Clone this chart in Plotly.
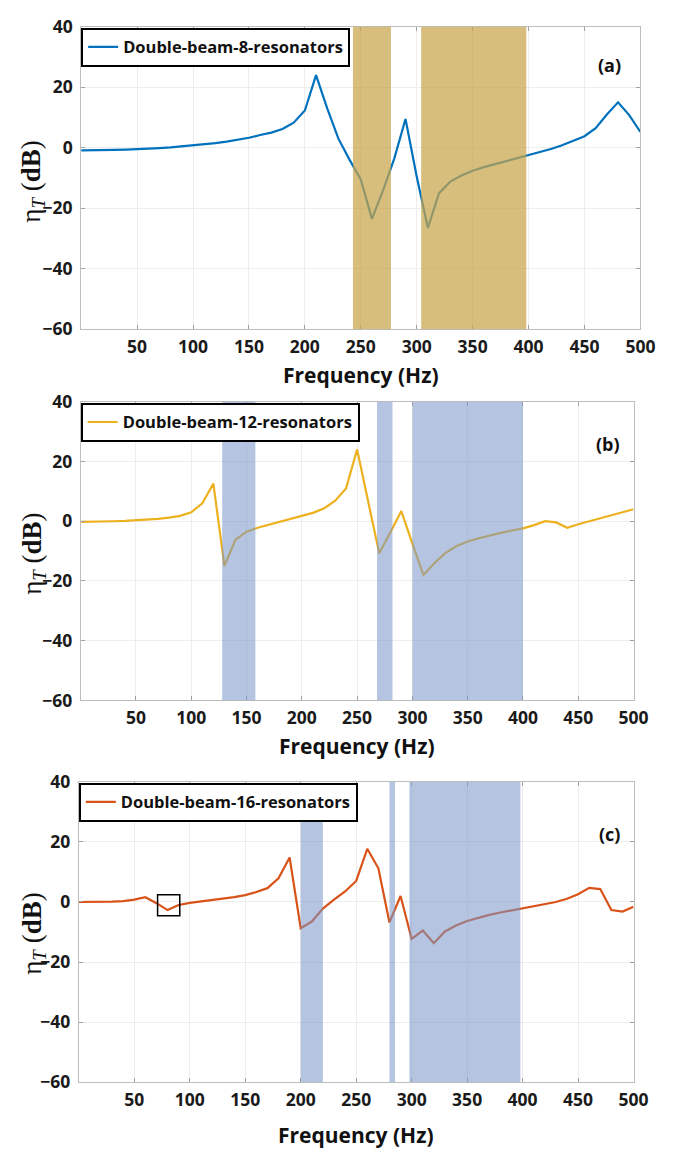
import plotly.graph_objects as go

# ---------------- data ----------------
FREQ = [0, 10, 20, 30, 40, 50, 60, 70, 80, 90, 100, 110, 120, 130, 140, 150, 160, 170, 180, 190,
        200, 210, 220, 230, 240, 250, 260, 270, 280, 290, 300, 310, 320, 330, 340, 350, 360, 370,
        380, 390, 400, 410, 420, 430, 440, 450, 460, 470, 480, 490, 500]

ETA_8 = [-0.9, -0.9, -0.8, -0.7, -0.6, -0.5, -0.3, -0.1, 0.1, 0.4, 0.7, 1.1, 1.5, 2.0, 2.6, 3.3,
         4.2, 5.0, 6.2, 8.3, 12.3, 24.0, 13.0, 3.0, -4.0, -10.5, -23.5, -14.0, -3.5, 9.5, -9.5,
         -26.5, -15.0, -11.2, -9.2, -7.6, -6.4, -5.4, -4.4, -3.4, -2.5, -1.5, -0.4, 0.8, 2.2, 3.8,
         6.5, 11.0, 15.0, 10.8, 5.2]

ETA_12 = [-0.2, -0.2, -0.1, 0.0, 0.1, 0.3, 0.5, 0.8, 1.2, 1.8, 3.0, 6.0, 12.6, -15.0, -6.2, -3.5,
          -2.2, -1.2, -0.3, 0.6, 1.6, 2.8, 4.3, 6.8, 11.0, 24.0, 6.6, -10.7, -3.8, 3.4, -7.5,
          -18.0, -14.0, -10.6, -8.3, -6.8, -5.7, -4.7, -3.9, -3.1, -2.4, -1.3, 0.0, -0.4, -2.2,
          -1.0, 0.0, 1.0, 2.0, 3.0, 4.0]

ETA_16 = [0.0, 0.0, 0.1, 0.1, 0.3, 0.8, 1.6, -0.4, -2.7, -1.0, -0.3, 0.2, 0.6, 1.0, 1.6, 2.3,
          3.3, 4.6, 7.9, 14.8, -8.7, -6.5, -2.2, 0.8, 3.5, 7.0, 17.7, 11.2, -6.8, 2.0, -12.3,
          -9.5, -13.7, -9.8, -7.8, -6.3, -5.2, -4.3, -3.5, -2.8, -2.2, -1.5, -0.8, 0.0, 1.1,
          2.6, 4.7, 4.3, -2.7, -3.2, -1.6]

# band gaps: (start Hz, end Hz, top dB)
BANDS_8 = [(243, 277, 40), (304, 398, 40)]
BANDS_12 = [(128, 158, 40), (268, 282, 40), (300, 400, 40)]
BANDS_16 = [(200, 220, 30), (280, 285, 40), (298, 398, 40)]

# highlighted box in panel (c): (x0, x1, y0, y1)
BOX_16 = (71, 91, -4.6, 2.4)

NAMES = ["Double-beam-8-resonators", "Double-beam-12-resonators", "Double-beam-16-resonators"]
PANEL_LABELS = ["(a)", "(b)", "(c)"]
X_TICKS = [50, 100, 150, 200, 250, 300, 350, 400, 450, 500]
Y_TICKS = [-60, -40, -20, 0, 20, 40]

# ---------------- layout geometry ----------------
W, H = 673, 1158
LINE_COLORS = ["#0072BD", "#EDB120", "#D95319"]
BAND_STYLE = [("rgb(200,165,75)", 0.72), ("rgb(120,150,200)", 0.55), ("rgb(120,150,200)", 0.55)]
# pixel boxes (left, right, top, bottom)
PIX = [(83, 655, 14, 323), (82.5, 648, 397, 702), (80.6, 648, 785, 1092)]
XTITLE_Y = [370, 749, 1146]
YTITLE_Y = [172, 552, 940]
LABEL_POS = [(623, 53), (622, 440), (623, 838)]

def px(x):
    return x / W

def py(y):
    return 1 - y / H

fig = go.Figure()
series = [ETA_8, ETA_12, ETA_16]
bands = [BANDS_8, BANDS_12, BANDS_16]
shapes = []
annotations = []
font_main = "Open Sans"

for i in range(3):
    sx = "" if i == 0 else str(i + 1)
    xa, ya = "x" + sx, "y" + sx
    lg = "legend" if i == 0 else "legend" + str(i + 1)
    fig.add_trace(go.Scatter(x=FREQ, y=series[i], mode="lines", name=NAMES[i],
                             line=dict(color=LINE_COLORS[i], width=2.2),
                             xaxis=xa, yaxis=ya, legend=lg, showlegend=True))
    l, r, t, b = PIX[i]
    axis_common = dict(showline=True, linecolor="#bdbdbd", linewidth=1, mirror="ticks",
                       ticks="inside", ticklen=4, tickcolor="#a0a0a0",
                       showgrid=True, gridcolor="#ededed", gridwidth=1, zeroline=False,
                       tickfont=dict(family=font_main, size=17.5, color="#1a1a1a", weight="bold"))
    fig.update_layout(**{
        "xaxis" + sx: dict(domain=[px(l), px(r)], range=[0, 500], tickvals=X_TICKS,
                           anchor=ya, ticklabelstandoff=2, **axis_common),
        "yaxis" + sx: dict(domain=[py(b), py(t)], range=[-60, 40], tickvals=Y_TICKS,
                           anchor=xa, ticklabelstandoff=4, **axis_common),
    })
    col, op = BAND_STYLE[i]
    for (b0, b1, top) in bands[i]:
        shapes.append(dict(type="rect", xref=xa, yref=ya, x0=b0, x1=b1, y0=-60, y1=top,
                           fillcolor=col, opacity=op, line=dict(width=0), layer="above"))
    # legend
    fig.update_layout(**{
        lg: dict(x=px(l), y=py(t + 1), xanchor="left", yanchor="top",
                 bgcolor="white", bordercolor="black", borderwidth=2,
                 font=dict(family=font_main, size=16.5, color="#111111", weight="bold"),
                 itemwidth=30, tracegroupgap=0)
    })
    # titles
    annotations.append(dict(text="Frequency (Hz)", xref="paper", yref="paper",
                            x=px((l + r) / 2), y=py(XTITLE_Y[i]), xanchor="center", yanchor="middle",
                            showarrow=False,
                            font=dict(family=font_main, size=21, color="#111111", weight="bold")))
    annotations.append(dict(text="η<sub><i>T</i></sub> (<b>dB</b>)", xref="paper", yref="paper",
                            x=px(34), y=py(YTITLE_Y[i]), xanchor="center", yanchor="middle",
                            textangle=-90, showarrow=False,
                            font=dict(family="Liberation Serif", size=27, color="#111111")))
    lx, ly = LABEL_POS[i]
    annotations.append(dict(text=PANEL_LABELS[i], xref="paper", yref="paper",
                            x=px(lx), y=py(ly), xanchor="center", yanchor="middle",
                            showarrow=False,
                            font=dict(family=font_main, size=18, color="#111111", weight="bold")))

bx0, bx1, by0, by1 = BOX_16
shapes.append(dict(type="rect", xref="x3", yref="y3", x0=bx0, x1=bx1, y0=by0, y1=by1,
                   line=dict(color="black", width=1.5), fillcolor="rgba(0,0,0,0)", layer="above"))

fig.update_layout(width=W, height=H, margin=dict(l=0, r=0, t=0, b=0),
                  paper_bgcolor="white", plot_bgcolor="white",
                  shapes=shapes, annotations=annotations)

fig.write_html("out.html")
